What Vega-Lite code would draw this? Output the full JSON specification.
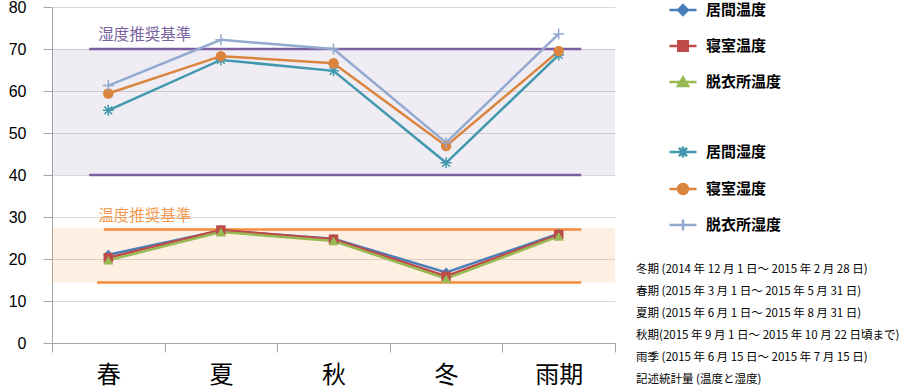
{
  "$schema": "https://vega.github.io/schema/vega-lite/v6.json",
  "width": 563,
  "height": 336,
  "autosize": {"type": "none"},
  "padding": {"left": 52, "top": 7, "right": 289, "bottom": 47},
  "background": "white",
  "config": {
    "view": {"stroke": null},
    "font": "Noto Sans CJK JP",
    "axisY": {
      "grid": true,
      "gridColor": "#d9d9d9",
      "domainColor": "#a6a6a6",
      "tickColor": "#a6a6a6",
      "tickSize": 9,
      "labelFont": "Liberation Sans",
      "labelFontSize": 16,
      "labelColor": "#000000",
      "labelPadding": 17,
      "values": [0, 10, 20, 30, 40, 50, 60, 70, 80],
      "title": null
    }
  },
  "title": {
    "text": [
      "冬期 (2014 年 12 月 1 日～ 2015 年 2 月 28 日)",
      "春期 (2015 年 3 月 1 日～ 2015 年 5 月 31 日)",
      "夏期 (2015 年 6 月 1 日～ 2015 年 8 月 31 日)",
      "秋期(2015 年 9 月 1 日～ 2015 年 10 月 22 日頃まで)",
      "雨季 (2015 年 6 月 15 日～ 2015 年 7 月 15 日)",
      "記述統計量 (温度と湿度)"
    ],
    "orient": "top",
    "anchor": "start",
    "frame": "group",
    "align": "left",
    "baseline": "top",
    "dx": 584,
    "dy": 390,
    "offset": 0,
    "fontSize": 11.5,
    "font": "Noto Sans CJK JP",
    "fontWeight": "normal",
    "color": "#000000",
    "lineHeight": 22
  },
  "datasets": {
    "bands": [
      {"kind": "湿度", "lo": 40, "hi": 70},
      {"kind": "温度", "lo": 14.4, "hi": 27.4}
    ],
    "refs": [
      {"kind": "湿度", "y": 70, "x0": 0.33, "x1": 4.7},
      {"kind": "湿度", "y": 40, "x0": 0.33, "x1": 4.7},
      {"kind": "温度", "y": 27, "x0": 0.46, "x1": 4.7},
      {"kind": "温度", "y": 14.4, "x0": 0.4, "x1": 4.7}
    ],
    "labels": [
      {"kind": "湿度", "y": 70, "x": 0.41, "label": "湿度推奨基準"},
      {"kind": "温度", "y": 27, "x": 0.41, "label": "温度推奨基準"}
    ],
    "series": [
      {"season": "春", "series": "居間湿度", "kind": "湿度", "value": 55.4},
      {"season": "夏", "series": "居間湿度", "kind": "湿度", "value": 67.4},
      {"season": "秋", "series": "居間湿度", "kind": "湿度", "value": 64.8},
      {"season": "冬", "series": "居間湿度", "kind": "湿度", "value": 42.9},
      {"season": "雨期", "series": "居間湿度", "kind": "湿度", "value": 68.6},
      {"season": "春", "series": "寝室湿度", "kind": "湿度", "value": 59.4},
      {"season": "夏", "series": "寝室湿度", "kind": "湿度", "value": 68.3},
      {"season": "秋", "series": "寝室湿度", "kind": "湿度", "value": 66.6},
      {"season": "冬", "series": "寝室湿度", "kind": "湿度", "value": 46.9},
      {"season": "雨期", "series": "寝室湿度", "kind": "湿度", "value": 69.5},
      {"season": "春", "series": "脱衣所湿度", "kind": "湿度", "value": 61.3},
      {"season": "夏", "series": "脱衣所湿度", "kind": "湿度", "value": 72.2},
      {"season": "秋", "series": "脱衣所湿度", "kind": "湿度", "value": 70.0},
      {"season": "冬", "series": "脱衣所湿度", "kind": "湿度", "value": 47.7},
      {"season": "雨期", "series": "脱衣所湿度", "kind": "湿度", "value": 73.6},
      {"season": "春", "series": "居間温度", "kind": "温度", "value": 21.0},
      {"season": "夏", "series": "居間温度", "kind": "温度", "value": 26.8},
      {"season": "秋", "series": "居間温度", "kind": "温度", "value": 24.8},
      {"season": "冬", "series": "居間温度", "kind": "温度", "value": 16.8},
      {"season": "雨期", "series": "居間温度", "kind": "温度", "value": 26.0},
      {"season": "春", "series": "寝室温度", "kind": "温度", "value": 20.3},
      {"season": "夏", "series": "寝室温度", "kind": "温度", "value": 26.9},
      {"season": "秋", "series": "寝室温度", "kind": "温度", "value": 24.7},
      {"season": "冬", "series": "寝室温度", "kind": "温度", "value": 15.9},
      {"season": "雨期", "series": "寝室温度", "kind": "温度", "value": 25.8},
      {"season": "春", "series": "脱衣所温度", "kind": "温度", "value": 19.7},
      {"season": "夏", "series": "脱衣所温度", "kind": "温度", "value": 26.4},
      {"season": "秋", "series": "脱衣所温度", "kind": "温度", "value": 24.3},
      {"season": "冬", "series": "脱衣所温度", "kind": "温度", "value": 15.3},
      {"season": "雨期", "series": "脱衣所温度", "kind": "温度", "value": 25.4}
    ]
  },
  "resolve": {"scale": {"x": "independent"}},
  "layer": [
    {
      "data": {"name": "bands"},
      "transform": [{"filter": "datum.kind === '湿度'"}],
      "mark": {"type": "rect", "color": "#5f4b8b", "opacity": 0.1},
      "encoding": {
        "y": {"field": "lo", "type": "quantitative", "scale": {"domain": [0, 80]}, "title": null},
        "y2": {"field": "hi"}
      }
    },
    {
      "data": {"name": "bands"},
      "transform": [{"filter": "datum.kind === '温度'"}],
      "mark": {"type": "rect", "color": "#f79646", "opacity": 0.15},
      "encoding": {
        "y": {"field": "lo", "type": "quantitative", "scale": {"domain": [0, 80]}, "title": null},
        "y2": {"field": "hi"}
      }
    },
    {
      "layer": [
        {
          "data": {"name": "refs"},
          "transform": [{"filter": "datum.kind === '湿度'"}],
          "mark": {"type": "rule", "color": "#7b5fa0", "strokeWidth": 2.5},
          "encoding": {
            "x": {"field": "x0", "type": "quantitative", "scale": {"domain": [0, 5]}, "axis": null},
            "x2": {"field": "x1"},
            "y": {"field": "y", "type": "quantitative", "scale": {"domain": [0, 80]}, "title": null}
          }
        },
        {
          "data": {"name": "refs"},
          "transform": [{"filter": "datum.kind === '温度'"}],
          "mark": {"type": "rule", "color": "#f38c3c", "strokeWidth": 2.5},
          "encoding": {
            "x": {"field": "x0", "type": "quantitative", "scale": {"domain": [0, 5]}, "axis": null},
            "x2": {"field": "x1"},
            "y": {"field": "y", "type": "quantitative", "scale": {"domain": [0, 80]}, "title": null}
          }
        },
        {
          "data": {"name": "labels"},
          "transform": [{"filter": "datum.kind === '湿度'"}],
          "mark": {"type": "text", "color": "#7b62a0", "fontSize": 15.5, "align": "left", "baseline": "alphabetic", "dy": -9, "font": "Noto Sans CJK JP"},
          "encoding": {
            "x": {"field": "x", "type": "quantitative", "scale": {"domain": [0, 5]}, "axis": null},
            "y": {"field": "y", "type": "quantitative", "scale": {"domain": [0, 80]}, "title": null},
            "text": {"field": "label"}
          }
        },
        {
          "data": {"name": "labels"},
          "transform": [{"filter": "datum.kind === '温度'"}],
          "mark": {"type": "text", "color": "#f39a52", "fontSize": 15.5, "align": "left", "baseline": "alphabetic", "dy": -9, "font": "Noto Sans CJK JP"},
          "encoding": {
            "x": {"field": "x", "type": "quantitative", "scale": {"domain": [0, 5]}, "axis": null},
            "y": {"field": "y", "type": "quantitative", "scale": {"domain": [0, 80]}, "title": null},
            "text": {"field": "label"}
          }
        }
      ]
    },
    {
      "data": {"name": "series"},
      "encoding": {
        "x": {
          "field": "season",
          "type": "ordinal",
          "sort": ["春", "夏", "秋", "冬", "雨期"],
          "scale": {"type": "band", "paddingInner": 0, "paddingOuter": 0},
          "bandPosition": 0.5,
          "axis": {
            "title": null,
            "tickBand": "extent",
            "labelAngle": 0,
            "labelFontSize": 24,
            "labelFont": "Noto Sans CJK JP",
            "labelColor": "#000000",
            "tickSize": 9,
            "tickColor": "#a6a6a6",
            "domainColor": "#a6a6a6",
            "labelPadding": 11,
            "grid": false
          }
        },
        "y": {"field": "value", "type": "quantitative", "scale": {"domain": [0, 80]}, "title": null},
        "color": {
          "field": "series",
          "type": "nominal",
          "sort": null,
          "scale": {
            "domain": ["居間温度", "寝室温度", "脱衣所温度", " ", "居間湿度", "寝室湿度", "脱衣所湿度"],
            "range": ["#4a7ebb", "#be4b48", "#98b954", "#ffffff", "#4198af", "#db843d", "#93a9cf"]
          },
          "legend": {
            "orient": "none",
            "legendX": 616,
            "legendY": -12,
            "title": null,
            "padding": 0,
            "rowPadding": 11,
            "symbolSize": 729,
            "symbolStrokeWidth": 2.5,
            "labelFontSize": 15,
            "labelFont": "Noto Sans CJK JP",
            "labelFontWeight": "bold",
            "labelColor": "#000000",
            "labelOffset": 8,
            "encode": {
              "symbols": {
                "update": {
                  "shape": {"signal": "datum.value === '居間温度' ? 'M-1,0H1M0,-0.36L0.36,0L0,0.36L-0.36,0Z' : datum.value === '寝室温度' ? 'M-1,0H1M-0.35,-0.35H0.35V0.35H-0.35Z' : datum.value === '脱衣所温度' ? 'M-1,0H1M0,-0.34L0.38,0.3H-0.38Z' : datum.value === '居間湿度' ? 'M-1,0H1M-0.3,-0.3L0.3,0.3M-0.3,0.3L0.3,-0.3M0,-0.4V0.4' : datum.value === '寝室湿度' ? 'M-1,0H1M0.37,0A0.37,0.37 0 1,1 -0.37,0A0.37,0.37 0 1,1 0.37,0Z' : datum.value === '脱衣所湿度' ? 'M-1,0H1M0,-0.4V0.4' : 'M0,0'"},
                  "fill": {"scale": "color", "field": "value"},
                  "stroke": {"scale": "color", "field": "value"},
                  "strokeWidth": {"value": 2.5},
                  "opacity": {"value": 1}
                }
              }
            }
          }
        }
      },
      "layer": [
        {
          "mark": {"type": "line", "strokeWidth": 2.5}
        },
        {
          "transform": [{"filter": "datum.series === '居間温度'"}],
          "mark": {"type": "point", "shape": "diamond", "filled": true, "size": 100, "opacity": 1}
        },
        {
          "transform": [{"filter": "datum.series === '寝室温度'"}],
          "mark": {"type": "point", "shape": "square", "filled": true, "size": 90, "opacity": 1}
        },
        {
          "transform": [{"filter": "datum.series === '脱衣所温度'"}],
          "mark": {"type": "point", "shape": "triangle-up", "filled": true, "size": 100, "opacity": 1}
        },
        {
          "transform": [{"filter": "datum.series === '居間湿度'"}],
          "mark": {"type": "point", "shape": "M-1,0H1M-0.7,-0.7L0.7,0.7M-0.7,0.7L0.7,-0.7M0,-1V1", "filled": false, "size": 121, "opacity": 1, "strokeWidth": 1.5}
        },
        {
          "transform": [{"filter": "datum.series === '寝室湿度'"}],
          "mark": {"type": "point", "shape": "circle", "filled": true, "size": 110, "opacity": 1}
        },
        {
          "transform": [{"filter": "datum.series === '脱衣所湿度'"}],
          "mark": {"type": "point", "shape": "M-1,0H1M0,-1V1", "filled": false, "size": 121, "opacity": 1, "strokeWidth": 1.5}
        }
      ]
    }
  ]
}
